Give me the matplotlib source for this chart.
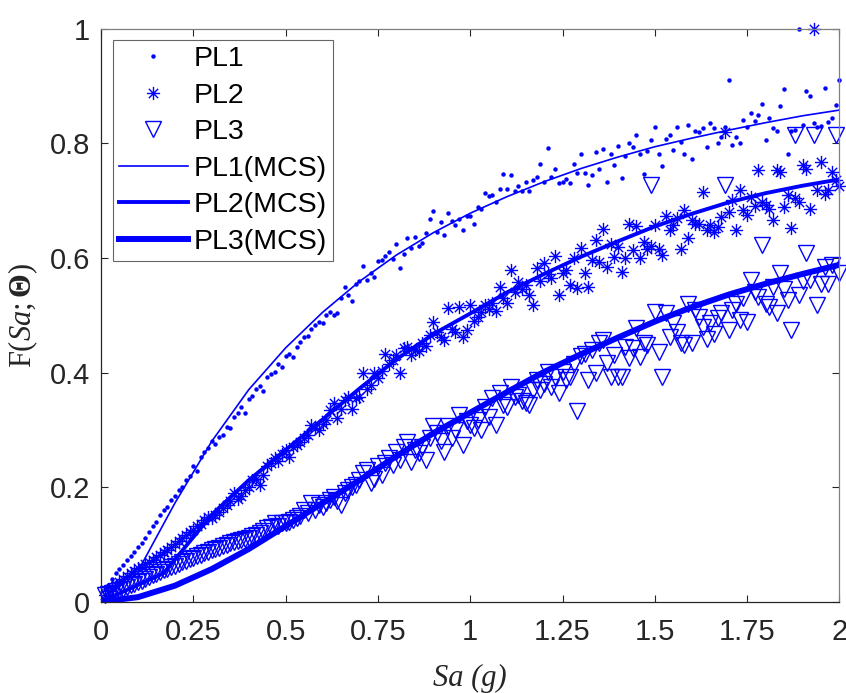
import numpy as np
import matplotlib
matplotlib.use("Agg")
import matplotlib.pyplot as plt
from matplotlib.path import Path

plt.rcParams['font.family'] = ['Liberation Sans', 'DejaVu Sans']
plt.rcParams['mathtext.fontset'] = 'custom'
plt.rcParams['mathtext.rm'] = 'Liberation Serif'
plt.rcParams['mathtext.it'] = 'Liberation Serif:italic'
plt.rcParams['mathtext.bf'] = 'Liberation Serif:bold'

# Sa grid of the simulated points (g)
sa = np.round(np.arange(1, 201) * 0.01, 2)

pl1 = [0.022, 0.030, 0.040, 0.050, 0.057, 0.064, 0.072, 0.080, 0.087, 0.095,
       0.103, 0.112, 0.121, 0.133, 0.139, 0.151, 0.160, 0.166, 0.178, 0.184,
       0.195, 0.200, 0.213, 0.220, 0.236, 0.228, 0.252, 0.262, 0.268, 0.280,
       0.276, 0.287, 0.291, 0.305, 0.303, 0.322, 0.329, 0.340, 0.330, 0.353,
       0.359, 0.372, 0.376, 0.368, 0.393, 0.397, 0.401, 0.415, 0.409, 0.428,
       0.432, 0.427, 0.445, 0.454, 0.462, 0.464, 0.476, 0.483, 0.489, 0.486,
       0.501, 0.506, 0.500, 0.503, 0.530, 0.550, 0.535, 0.524, 0.555, 0.560,
       0.586, 0.562, 0.573, 0.567, 0.594, 0.596, 0.604, 0.611, 0.598, 0.624,
       0.582, 0.607, 0.634, 0.618, 0.636, 0.620, 0.626, 0.643, 0.668, 0.682,
       0.645, 0.662, 0.640, 0.678, 0.665, 0.657, 0.668, 0.648, 0.674, 0.673,
       0.660, 0.689, 0.686, 0.714, 0.708, 0.710, 0.698, 0.720, 0.747, 0.720,
       0.745, 0.717, 0.726, 0.716, 0.733, 0.717, 0.736, 0.742, 0.764, 0.733,
       0.791, 0.742, 0.756, 0.730, 0.733, 0.738, 0.731, 0.764, 0.748, 0.781,
       0.748, 0.728, 0.745, 0.784, 0.755, 0.790, 0.733, 0.781, 0.762, 0.795,
       0.740, 0.778, 0.801, 0.793, 0.815, 0.782, 0.747, 0.787, 0.805, 0.829,
       0.782, 0.761, 0.808, 0.815, 0.788, 0.828, 0.803, 0.782, 0.832, 0.773,
       0.822, 0.819, 0.826, 0.793, 0.835, 0.827, 0.800, 0.811, 0.828, 0.910,
       0.797, 0.811, 0.801, 0.841, 0.829, 0.853, 0.839, 0.849, 0.868, 0.806,
       0.844, 0.826, 0.821, 0.865, 0.894, 0.782, 0.822, 0.823, 1.000, 0.832,
       0.891, 0.883, 0.836, 0.829, 0.830, 0.896, 0.838, 0.844, 0.866, 0.910]

pl2 = [0.012, 0.018, 0.024, 0.030, 0.034, 0.040, 0.045, 0.050, 0.053, 0.058,
       0.061, 0.066, 0.070, 0.073, 0.078, 0.081, 0.086, 0.090, 0.096, 0.100,
       0.106, 0.111, 0.117, 0.121, 0.126, 0.132, 0.136, 0.143, 0.148, 0.146,
       0.152, 0.156, 0.163, 0.168, 0.175, 0.189, 0.180, 0.184, 0.195, 0.200,
       0.212, 0.215, 0.204, 0.222, 0.236, 0.242, 0.250, 0.246, 0.258, 0.265,
       0.253, 0.270, 0.274, 0.279, 0.286, 0.291, 0.308, 0.303, 0.300, 0.311,
       0.318, 0.335, 0.346, 0.320, 0.337, 0.352, 0.358, 0.337, 0.355, 0.358,
       0.399, 0.372, 0.378, 0.399, 0.390, 0.402, 0.433, 0.415, 0.422, 0.430,
       0.399, 0.442, 0.445, 0.430, 0.440, 0.438, 0.452, 0.447, 0.466, 0.489,
       0.470, 0.462, 0.457, 0.512, 0.476, 0.470, 0.515, 0.462, 0.474, 0.518,
       0.490, 0.497, 0.505, 0.518, 0.510, 0.521, 0.508, 0.550, 0.530, 0.522,
       0.579, 0.540, 0.558, 0.545, 0.552, 0.535, 0.518, 0.582, 0.560, 0.591,
       0.572, 0.565, 0.603, 0.535, 0.573, 0.579, 0.553, 0.599, 0.547, 0.617,
       0.573, 0.550, 0.596, 0.631, 0.593, 0.650, 0.584, 0.625, 0.602, 0.619,
       0.576, 0.599, 0.660, 0.614, 0.655, 0.599, 0.628, 0.616, 0.620, 0.657,
       0.616, 0.605, 0.673, 0.649, 0.657, 0.669, 0.616, 0.683, 0.634, 0.666,
       0.660, 0.660, 0.715, 0.649, 0.657, 0.646, 0.654, 0.672, 0.820, 0.680,
       0.701, 0.649, 0.718, 0.683, 0.675, 0.707, 0.690, 0.754, 0.698, 0.692,
       0.686, 0.666, 0.753, 0.750, 0.689, 0.710, 0.653, 0.705, 0.698, 0.762,
       0.756, 0.686, 1.000, 0.718, 0.768, 0.712, 0.718, 0.750, 0.736, 0.725]

pl3 = [0.012, 0.014, 0.016, 0.018, 0.021, 0.023, 0.026, 0.029, 0.031, 0.034,
       0.037, 0.040, 0.043, 0.046, 0.049, 0.052, 0.055, 0.057, 0.060, 0.063,
       0.066, 0.069, 0.071, 0.074, 0.077, 0.079, 0.082, 0.085, 0.087, 0.090,
       0.092, 0.094, 0.097, 0.099, 0.102, 0.104, 0.106, 0.108, 0.110, 0.112,
       0.115, 0.117, 0.120, 0.124, 0.128, 0.130, 0.137, 0.133, 0.138, 0.137,
       0.140, 0.143, 0.146, 0.150, 0.160, 0.155, 0.172, 0.160, 0.168, 0.166,
       0.172, 0.178, 0.183, 0.176, 0.169, 0.190, 0.195, 0.200, 0.204, 0.212,
       0.224, 0.230, 0.207, 0.215, 0.236, 0.222, 0.242, 0.250, 0.238, 0.262,
       0.247, 0.270, 0.279, 0.244, 0.265, 0.259, 0.270, 0.247, 0.285, 0.306,
       0.294, 0.280, 0.262, 0.306, 0.285, 0.300, 0.326, 0.274, 0.315, 0.308,
       0.303, 0.318, 0.300, 0.340, 0.322, 0.355, 0.308, 0.364, 0.343, 0.340,
       0.375, 0.358, 0.361, 0.350, 0.346, 0.343, 0.370, 0.387, 0.370, 0.380,
       0.401, 0.375, 0.392, 0.364, 0.401, 0.387, 0.392, 0.415, 0.332, 0.428,
       0.433, 0.387, 0.439, 0.399, 0.451, 0.456, 0.416, 0.392, 0.431, 0.393,
       0.392, 0.445, 0.425, 0.442, 0.477, 0.427, 0.451, 0.448, 0.728, 0.506,
       0.436, 0.392, 0.503, 0.462, 0.486, 0.470, 0.451, 0.448, 0.520, 0.451,
       0.509, 0.497, 0.480, 0.459, 0.486, 0.468, 0.495, 0.503, 0.727, 0.474,
       0.509, 0.520, 0.491, 0.530, 0.488, 0.561, 0.540, 0.532, 0.622, 0.520,
       0.515, 0.550, 0.503, 0.573, 0.545, 0.526, 0.474, 0.815, 0.535, 0.560,
       0.608, 0.561, 0.815, 0.517, 0.555, 0.584, 0.555, 0.587, 0.815, 0.573]

# MCS reference curves
mcs1_x = [0, 0.11, 0.2, 0.3, 0.4, 0.5, 0.6, 0.7, 0.8, 0.9, 1.0,
          1.1, 1.2, 1.3, 1.4, 1.5, 1.6, 1.7, 1.8, 1.9, 2.0]
mcs1_y = [0, 0.065, 0.172, 0.28, 0.37, 0.443, 0.505, 0.559, 0.605, 0.644, 0.678,
          0.707, 0.733, 0.756, 0.776, 0.794, 0.809, 0.823, 0.836, 0.848, 0.858]
mcs2_x = [0, 0.17, 0.3, 0.4, 0.5, 0.6, 0.7, 0.8, 0.9, 1.0,
          1.1, 1.2, 1.3, 1.4, 1.5, 1.6, 1.7, 1.8, 1.9, 2.0]
mcs2_y = [0, 0.05, 0.152, 0.212, 0.265, 0.318, 0.372, 0.423, 0.467, 0.503,
          0.54, 0.572, 0.602, 0.629, 0.655, 0.677, 0.697, 0.713, 0.726, 0.737]
mcs3_x = [0, 0.1, 0.2, 0.3, 0.4, 0.5, 0.6, 0.7, 0.8, 0.9, 1.0,
          1.1, 1.2, 1.3, 1.4, 1.5, 1.6, 1.7, 1.8, 1.9, 2.0]
mcs3_y = [0, 0.008, 0.028, 0.057, 0.092, 0.132, 0.172, 0.212, 0.254, 0.294, 0.33,
          0.366, 0.401, 0.432, 0.461, 0.489, 0.514, 0.536, 0.555, 0.572, 0.588]

xticks = [0, 0.25, 0.5, 0.75, 1, 1.25, 1.5, 1.75, 2]
xticklabels = ['0', '0.25', '0.5', '0.75', '1', '1.25', '1.5', '1.75', '2']
yticks = [0, 0.2, 0.4, 0.6, 0.8, 1]
yticklabels = ['0', '0.2', '0.4', '0.6', '0.8', '1']

blue = '#0000ff'
dark = '#262626'

# matlab style asterisk
d = 0.707
asterisk = Path([(-1, 0), (1, 0), (0, -1), (0, 1), (-d, -d), (d, d), (-d, d), (d, -d)],
                [Path.MOVETO, Path.LINETO] * 4)

fig = plt.figure(figsize=(8.46, 6.93), dpi=100)
ax = fig.add_axes([0.1194, 0.1317, 0.8729, 0.8269])

ax.plot(sa, pl1, linestyle='none', marker='o', markersize=3.2, markeredgewidth=0,
        color=blue, clip_on=False, label='PL1')
ax.plot(sa, pl2, linestyle='none', marker=asterisk, markersize=9.5, markeredgewidth=1.0,
        markerfacecolor='none', markeredgecolor=blue, clip_on=False, label='PL2')
ax.plot(sa, pl3, linestyle='none', marker='v', markersize=11, markeredgewidth=1.0,
        markerfacecolor='none', markeredgecolor=blue, clip_on=False, label='PL3')
ax.plot(mcs1_x, mcs1_y, color=blue, linewidth=1.2, label='PL1(MCS)')
ax.plot(mcs2_x, mcs2_y, color=blue, linewidth=2.8, label='PL2(MCS)')
ax.plot(mcs3_x, mcs3_y, color=blue, linewidth=4.3, label='PL3(MCS)')

ax.set_xlim(0, 2)
ax.set_ylim(0, 1)
ax.set_xticks(xticks)
ax.set_xticklabels(xticklabels)
ax.set_yticks(yticks)
ax.set_yticklabels(yticklabels)
ax.tick_params(direction='in', length=5, width=0.8, colors=dark, labelsize=21,
               top=True, right=True)
ax.tick_params(axis='x', pad=12)
ax.tick_params(axis='y', pad=8)
for s in ['left', 'bottom']:
    ax.spines[s].set_color(dark)
    ax.spines[s].set_linewidth(0.9)
for s in ['top', 'right']:
    ax.spines[s].set_color('#808080')
    ax.spines[s].set_linewidth(0.9)

ax.set_xlabel('Sa (g)', family='Liberation Serif', style='italic', fontsize=22, color=dark)
ax.xaxis.set_label_coords(0.5, -0.108)
ax.set_ylabel(r'$\mathrm{F(}\mathit{Sa}\mathrm{;}\mathbf{\Theta}\mathrm{)}$', fontsize=22, color=dark)
ax.yaxis.set_label_coords(-0.082, 0.5)

leg = ax.legend(loc='upper left', bbox_to_anchor=(0.0163, 0.9803), borderaxespad=0,
                fontsize=20.5, numpoints=1, handlelength=2.4, handletextpad=0.2,
                borderpad=0.22, labelspacing=0.37, fancybox=False, framealpha=1)
leg.get_frame().set_edgecolor('#666666')
leg.get_frame().set_linewidth(0.8)
for t in leg.get_texts():
    t.set_color('black')

fig.savefig('out.png', dpi=100)
